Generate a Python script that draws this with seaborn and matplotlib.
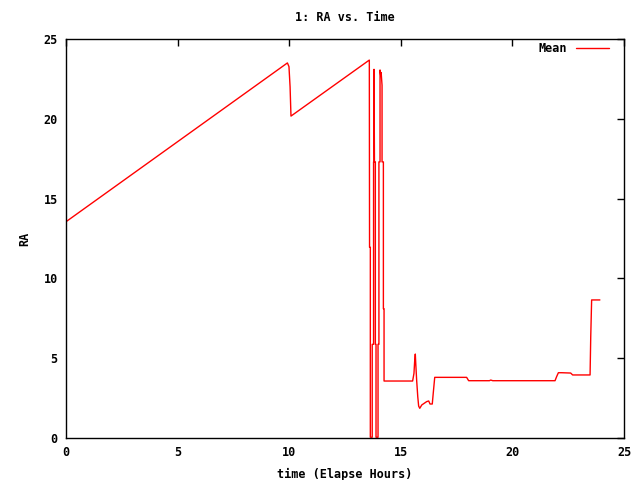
import pandas as pd
import matplotlib
matplotlib.use('Agg')
import matplotlib.pyplot as plt
import seaborn as sns

# ----------------------------
# Data (time in hours, RA)
# ----------------------------
time_hours = [
    0.0, 9.92, 9.99, 10.04, 10.08, 13.59,
    13.60, 13.635, 13.635, 13.72, 13.72, 13.78, 13.78, 13.80, 13.80,
    13.82, 13.86, 13.86, 13.89, 13.89, 13.98, 13.98, 14.02, 14.02,
    14.07, 14.07, 14.10, 14.12, 14.16, 14.16, 14.22, 14.22, 14.25, 14.25,
    15.53, 15.59, 15.62, 15.65, 15.67, 15.71, 15.76, 15.80, 15.85, 15.94,
    16.16, 16.25, 16.31, 16.41, 16.46, 16.52, 17.95, 18.04, 18.97, 19.03,
    19.12, 21.91, 21.98, 22.06, 22.21, 22.61, 22.70, 23.48, 23.51, 23.55,
    23.92,
]
ra_mean = [
    13.55, 23.50, 23.27, 22.0, 20.17, 23.68,
    11.95, 11.95, 0.05, 0.05, 5.87, 5.87, 17.3, 17.3, 23.1,
    17.3, 17.3, 5.87, 5.87, 0.05, 0.05, 5.87, 5.87, 17.3,
    17.3, 23.06, 22.7, 22.9, 22.1, 17.3, 17.3, 8.1, 8.1, 3.57,
    3.57, 4.05, 4.78, 5.26, 4.68, 3.63, 2.59, 2.0, 1.86, 2.07,
    2.28, 2.32, 2.13, 2.13, 2.9, 3.8, 3.8, 3.59, 3.59, 3.63,
    3.59, 3.59, 3.84, 4.09, 4.09, 4.07, 3.95, 3.95, 6.35, 8.65,
    8.65,
]
x_ticks = [0, 5, 10, 15, 20, 25]
y_ticks = [0, 5, 10, 15, 20, 25]

df = pd.DataFrame({'time': time_hours, 'RA': ra_mean})

# ----------------------------
# Plot
# ----------------------------
sns.set_style('white')
plt.rcParams['font.family'] = ['DejaVu Sans Mono']
plt.rcParams['font.weight'] = 'bold'
plt.rcParams['font.size'] = 8.5
plt.rcParams['text.color'] = 'black'
plt.rcParams['axes.labelcolor'] = 'black'

fig = plt.figure(figsize=(6.4, 4.8), dpi=100)
ax = fig.add_axes([0.1031, 0.0875, 0.8719, 0.83125])

sns.lineplot(data=df, x='time', y='RA', sort=False, estimator=None,
             color='red', linewidth=1.0, label='Mean', ax=ax)

ax.set_xlim(0, 25)
ax.set_ylim(0, 25)
ax.set_xticks(x_ticks)
ax.set_yticks(y_ticks)
ax.tick_params(direction='in', length=5, width=1, top=True, right=True,
               colors='black', labelsize=8.5, pad=6)
for s in ax.spines.values():
    s.set_color('black')
    s.set_linewidth(1)

ax.set_title('1: RA vs. Time', fontsize=8.5, fontweight='bold', pad=13,
             color='black')
ax.set_xlabel('time (Elapse Hours)', fontsize=8.5, fontweight='bold', labelpad=6)
ax.set_ylabel('RA', fontsize=8.5, fontweight='bold', labelpad=9)

leg = ax.legend(loc='upper right', frameon=False, markerfirst=False,
                handlelength=2.8, fontsize=8.5, borderaxespad=0.3,
                bbox_to_anchor=(0.988, 1.013))
for t in leg.get_texts():
    t.set_color('black')

fig.savefig('out.png', dpi=100)
